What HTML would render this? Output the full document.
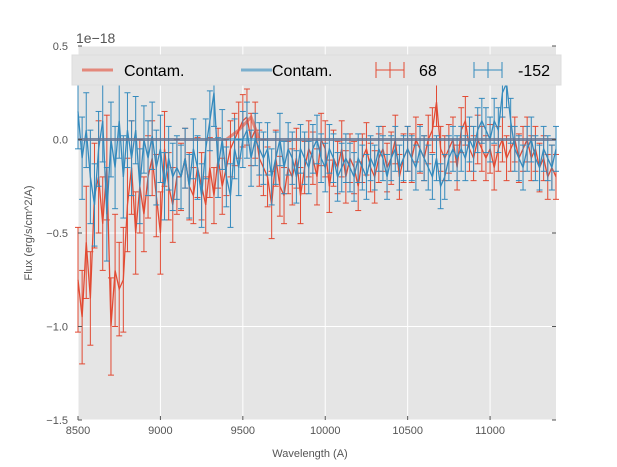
<!DOCTYPE html>
<html><head><meta charset="utf-8"><style>
body{margin:0;background:#fff;}
svg{display:block;font-family:"Liberation Sans",sans-serif;}
</style></head><body>
<svg id="c" width="617" height="467"></svg>
<script>
const redY=[-0.75,-0.95,-0.55,-0.85,-0.3,-0.2,-0.45,-0.15,-1.0,-0.7,-0.8,-0.75,-0.35,
-0.15,-0.5,-0.25,-0.4,-0.2,-0.1,-0.3,-0.5,-0.05,-0.25,-0.35,-0.2,
-0.2,-0.1,-0.25,-0.3,-0.15,-0.25,-0.35,-0.15,-0.3,-0.1,-0.25,-0.15,
-0.05,0.0,0.05,0.1,0.12,0.0,0.05,-0.1,
-0.15,-0.2,-0.35,-0.1,-0.25,-0.3,-0.15,-0.2,-0.1,-0.3,-0.15,-0.05,
-0.1,-0.2,0.0,-0.05,-0.25,-0.1,-0.15,-0.05,-0.2,-0.1,-0.15,-0.25,
-0.1,-0.05,-0.15,-0.2,-0.1,-0.05,-0.15,-0.1,0.0,-0.2,-0.1,-0.05,
-0.1,0.0,-0.05,-0.1,0.0,0.05,0.2,-0.05,-0.1,-0.05,0.0,-0.15,
0.05,0.1,-0.05,-0.1,0.0,-0.05,-0.1,-0.05,-0.15,-0.05,0.0,-0.1,
-0.05,0.0,-0.1,-0.05,0.0,-0.1,-0.05,-0.15,-0.1,-0.2,-0.15,-0.2];
const blueY=[0.15,-0.1,0.05,-0.2,-0.35,-0.05,0.1,-0.4,0.0,-0.15,0.1,-0.2,0.05,
-0.1,0.05,-0.25,0.0,-0.1,0.02,-0.15,-0.05,-0.25,-0.1,-0.2,-0.15,
-0.2,-0.1,-0.25,-0.05,-0.15,-0.3,-0.05,0.1,0.25,-0.15,0.0,-0.2,
-0.3,-0.05,-0.15,0.0,0.05,-0.1,0.0,-0.05,
-0.1,-0.05,-0.2,-0.1,0.0,-0.15,-0.05,-0.1,-0.2,-0.05,-0.1,-0.15,
-0.05,0.0,-0.1,-0.15,-0.05,-0.1,-0.2,-0.15,-0.1,-0.15,-0.2,-0.1,
-0.15,-0.2,-0.1,-0.15,-0.05,-0.1,-0.2,-0.1,-0.05,-0.15,-0.1,-0.05,
-0.1,-0.15,-0.05,-0.1,-0.15,-0.2,-0.1,-0.25,-0.2,-0.1,-0.05,-0.1,
-0.05,-0.1,0.0,-0.05,0.05,0.1,0.05,0.0,0.1,0.05,0.25,0.3,
0.1,-0.05,-0.1,-0.15,-0.05,0.0,-0.1,-0.15,-0.05,-0.1,-0.15,-0.05];
const redErr=[0.28,0.25,0.3,0.25,0.28,0.3,0.25,0.28,0.26,0.3,0.25,0.28,0.25,
0.25,0.22,0.25,0.2,0.22,0.2,0.22,0.22,0.2,0.18,0.2,0.2,
0.18,0.16,0.18,0.15,0.16,0.18,0.15,0.16,0.15,0.16,0.15,0.15,
0.15,0.14,0.15,0.14,0.15,0.14,0.15,0.15,
0.15,0.16,0.18,0.15,0.16,0.15,0.14,0.15,0.16,0.15,0.14,0.15,
0.14,0.15,0.14,0.15,0.14,0.15,0.14,0.15,0.14,0.13,0.14,0.13,
0.13,0.14,0.13,0.14,0.13,0.12,0.13,0.14,0.13,0.12,0.13,0.12,
0.13,0.12,0.13,0.12,0.13,0.12,0.13,0.12,0.12,0.13,0.12,0.12,
0.12,0.13,0.12,0.12,0.13,0.12,0.12,0.13,0.12,0.12,0.12,0.12,
0.12,0.12,0.13,0.12,0.12,0.12,0.12,0.13,0.12,0.12,0.12,0.12];
const blueErr=[0.2,0.22,0.2,0.25,0.22,0.2,0.22,0.25,0.2,0.22,0.2,0.22,0.2,
0.2,0.18,0.2,0.18,0.2,0.18,0.2,0.18,0.18,0.17,0.18,0.17,
0.17,0.16,0.17,0.16,0.17,0.17,0.16,0.16,0.18,0.16,0.16,0.16,
0.17,0.16,0.15,0.15,0.15,0.15,0.14,0.14,
0.14,0.14,0.15,0.14,0.14,0.14,0.14,0.14,0.14,0.13,0.14,0.14,
0.13,0.13,0.13,0.13,0.13,0.13,0.13,0.13,0.13,0.13,0.13,0.13,
0.12,0.12,0.12,0.12,0.12,0.12,0.12,0.12,0.12,0.12,0.12,0.12,
0.12,0.12,0.12,0.12,0.12,0.12,0.12,0.12,0.12,0.12,0.12,0.12,
0.12,0.12,0.12,0.12,0.12,0.12,0.12,0.12,0.12,0.12,0.13,0.13,
0.12,0.12,0.12,0.12,0.12,0.12,0.12,0.12,0.12,0.12,0.12,0.12];
const xStart=8500, xStep=25;
const redContamX=[8500,9400,9475,9550,9600,11400];
const redContamY=[0,0,0.05,0.12,0,0];
const xTicks=[8500,9000,9500,10000,10500,11000];
const yTicks=[0.5,0,-0.5,-1.0,-1.5];
const yTickLabels=["0.5","0.0","−0.5","−1.0","−1.5"];

const L=78,R=556,T=46,B=420,X0=8500,X1=11400,Y0=-1.5,Y1=0.5;
const sx=v=>L+(v-X0)/(X1-X0)*(R-L);
const sy=v=>B-(v-Y0)/(Y1-Y0)*(B-T);
const svg=document.getElementById('c');
const NS='http://www.w3.org/2000/svg';
function mk(tag,a,p){const e=document.createElementNS(NS,tag);for(const k in a)e.setAttribute(k,a[k]);(p||svg).appendChild(e);return e;}
let bg=mk('rect',{x:L,y:T,width:R-L,height:B-T,fill:'#E5E5E5'});


const grid=mk('g',{});


xTicks.forEach(t=>{mk('line',{x1:sx(t),x2:sx(t),y1:T,y2:B,stroke:'#fff','stroke-width':1},grid);});
yTicks.forEach(t=>{mk('line',{x1:L,x2:R,y1:sy(t),y2:sy(t),stroke:'#fff','stroke-width':1},grid);});
function series(ys,errs,col,name){
  const g=mk('g',{});
  
  
  ys.forEach((v,i)=>{const x=sx(xStart+i*xStep),e=errs[i];
    mk('line',{x1:x,x2:x,y1:sy(v-e),y2:sy(v+e),stroke:col,'stroke-width':1},g);
    mk('line',{x1:x-3,x2:x+3,y1:sy(v-e),y2:sy(v-e),stroke:col,'stroke-width':1},g);
    mk('line',{x1:x-3,x2:x+3,y1:sy(v+e),y2:sy(v+e),stroke:col,'stroke-width':1},g);});
  const pts=ys.map((v,i)=>sx(xStart+i*xStep)+','+sy(v)).join(' ');
  mk('polyline',{points:pts,fill:'none',stroke:col,'stroke-width':1.3},g);
}
series(redY,redErr,'#E24A33','series-68');
series(blueY,blueErr,'#348ABD','series-152');
const rc=mk('polyline',{points:redContamX.map((x,i)=>sx(x)+','+sy(redContamY[i])).join(' '),fill:'none',stroke:'#E24A33','stroke-opacity':0.6,'stroke-width':3});


const bc=mk('line',{x1:L,x2:R,y1:sy(0),y2:sy(0),stroke:'#348ABD','stroke-opacity':0.6,'stroke-width':3});


const ax=mk('g',{'font-size':11,fill:'#555'});


xTicks.forEach(t=>{mk('line',{x1:sx(t),x2:sx(t),y1:B,y2:B-4,stroke:'#555'},ax);
  const tx=mk('text',{x:sx(t),y:B+14,'text-anchor':'middle'},ax);tx.textContent=t;
  
  });
yTicks.forEach((t,i)=>{mk('line',{x1:R,x2:R-4,y1:sy(t),y2:sy(t),stroke:'#555'},ax);mk('line',{x1:L,x2:L+4,y1:sy(t),y2:sy(t),stroke:'#555'},ax);
  const tx=mk('text',{x:L-10,y:sy(t)+4,'text-anchor':'end'},ax);tx.textContent=yTickLabels[i];
  
  });
</script>
<svg width="617" height="467" style="position:absolute;left:0;top:0">
<text x="76" y="43" font-size="14" fill="#555" font-family="Liberation Sans">1e−18</text>
<text x="310" y="457" font-size="11" fill="#555" text-anchor="middle" font-family="Liberation Sans">Wavelength (A)</text>
<text transform="translate(32,233) rotate(-90)" font-size="11" fill="#555" text-anchor="middle" font-family="Liberation Sans">Flux (erg/s/cm^2/A)</text>
<g font-family="Liberation Sans" font-size="16" fill="#000">
<rect x="72" y="55" width="489" height="30" fill="#E5E5E5" stroke="#ddd"/>
<g><line x1="82" x2="113" y1="70" y2="70" stroke="#E24A33" stroke-opacity="0.6" stroke-width="3"/><text x="124" y="76">Contam.</text></g>
<g><line x1="241" x2="272" y1="70" y2="70" stroke="#348ABD" stroke-opacity="0.6" stroke-width="3"/><text x="272" y="76">Contam.</text></g>
<g stroke="#E24A33"><line x1="376" x2="404" y1="70" y2="70"/><line x1="376" x2="376" y1="62" y2="78"/><line x1="404" x2="404" y1="62" y2="78"/><line x1="390" x2="390" y1="62" y2="78"/><text x="419" y="76" stroke="none" fill="#000">68</text></g>
<g stroke="#348ABD"><line x1="474" x2="502" y1="70" y2="70"/><line x1="474" x2="474" y1="62" y2="78"/><line x1="502" x2="502" y1="62" y2="78"/><line x1="488" x2="488" y1="62" y2="78"/><text x="518" y="76" stroke="none" fill="#000">-152</text></g>
</g>
</svg>
</body></html>
